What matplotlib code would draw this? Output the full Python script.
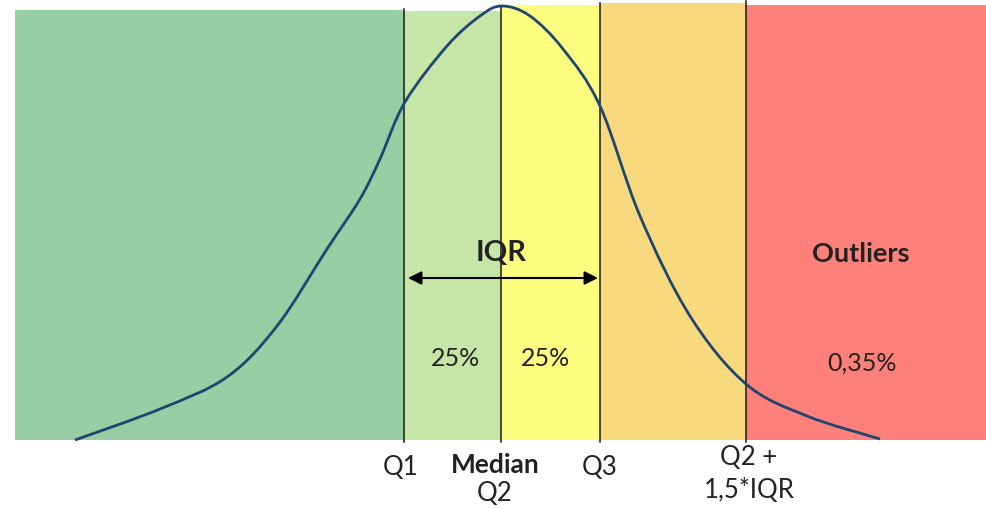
import matplotlib
matplotlib.use("Agg")
import matplotlib.pyplot as plt
from matplotlib.path import Path
from matplotlib.patches import PathPatch, Rectangle

plt.rcParams['font.family'] = ['Lato', 'DejaVu Sans']

# Zones of the distribution: left edge, right edge, top height, colour
zone_left = [15, 404, 501, 600, 746]
zone_right = [404, 501, 600, 746, 986]
zone_top = [430, 429, 435, 437, 435]
zone_colors = ['#97cea3', '#c6e6a8', '#fdfd80', '#f9d97d', '#fe807a']

# Quartile boundaries and their line tops
boundary_x = [404, 501, 600, 746]
boundary_top = [431, 434, 437, 439]

# Density curve (x position, height above baseline)
curve_x = [75, 160, 227, 277, 327, 360, 380, 405, 447, 480, 502, 530, 563,
           600, 640, 690, 746, 807, 880]
curve_y = [0, 31, 63, 114, 191, 241, 281, 338, 394, 424, 434, 424, 391,
           334, 224, 124, 56, 24, 1]

# Labels inside the zones
pct_labels = ['25%', '25%', '0,35%']
pct_x = [456, 545, 862]
pct_y = [83, 83, 78]

# Axis labels under the boundaries
tick_labels = ['Q1', 'Q3']
tick_x = [401, 600]

text_color = '#222222'

fig = plt.figure(figsize=(9.86, 5.10), dpi=100)
ax = fig.add_axes([0, 0, 1, 1])
ax.set_xlim(0, 986)
ax.set_ylim(-69, 441)
ax.axis('off')

for l, r, t, c in zip(zone_left, zone_right, zone_top, zone_colors):
    ax.add_patch(Rectangle((l, 0), r - l, t, facecolor=c, edgecolor='none', zorder=1))

for x, t in zip(boundary_x, boundary_top):
    ax.plot([x, x], [-2, t], color='#1a1a1a', lw=1.1, zorder=2)

# Smooth curve through the points (Catmull-Rom as cubic Bezier segments)
pts = list(zip(curve_x, curve_y))
verts = [pts[0]]
codes = [Path.MOVETO]
n = len(pts)
for i in range(n - 1):
    p0 = pts[i - 1] if i > 0 else pts[i]
    p1 = pts[i]
    p2 = pts[i + 1]
    p3 = pts[i + 2] if i + 2 < n else pts[i + 1]
    c1 = (p1[0] + (p2[0] - p0[0]) / 6, p1[1] + (p2[1] - p0[1]) / 6)
    c2 = (p2[0] - (p3[0] - p1[0]) / 6, p2[1] - (p3[1] - p1[1]) / 6)
    verts += [c1, c2, p2]
    codes += [Path.CURVE4] * 3
ax.add_patch(PathPatch(Path(verts, codes), facecolor='none',
                       edgecolor='#1f4570', lw=2.0, zorder=3))

# IQR arrow
ax.annotate('', xy=(408, 162), xytext=(598, 162),
            arrowprops=dict(arrowstyle='<|-|>', color='black', lw=1.5,
                            mutation_scale=20, shrinkA=0, shrinkB=0), zorder=4)
ax.text(501, 188, 'IQR', ha='center', va='center', fontsize=21,
        fontweight='bold', color=text_color, zorder=5)
ax.text(861, 187, 'Outliers', ha='center', va='center', fontsize=19.5,
        fontweight='bold', color=text_color, zorder=5)

for s, x, y in zip(pct_labels, pct_x, pct_y):
    ax.text(x, y, s, ha='center', va='center', fontsize=18, color=text_color, zorder=5)

for s, x in zip(tick_labels, tick_x):
    ax.text(x, -27, s, ha='center', va='center', fontsize=18.5, color=text_color)

ax.text(495, -24, 'Median', ha='center', va='center', fontsize=19,
        fontweight='bold', color=text_color)
ax.text(495, -53, 'Q2', ha='center', va='center', fontsize=18.5, color=text_color)
ax.text(749, -17, 'Q2 +', ha='center', va='center', fontsize=18.5, color=text_color)
ax.text(749, -50, '1,5*IQR', ha='center', va='center', fontsize=18.5, color=text_color)

fig.savefig('out.png', dpi=100)
